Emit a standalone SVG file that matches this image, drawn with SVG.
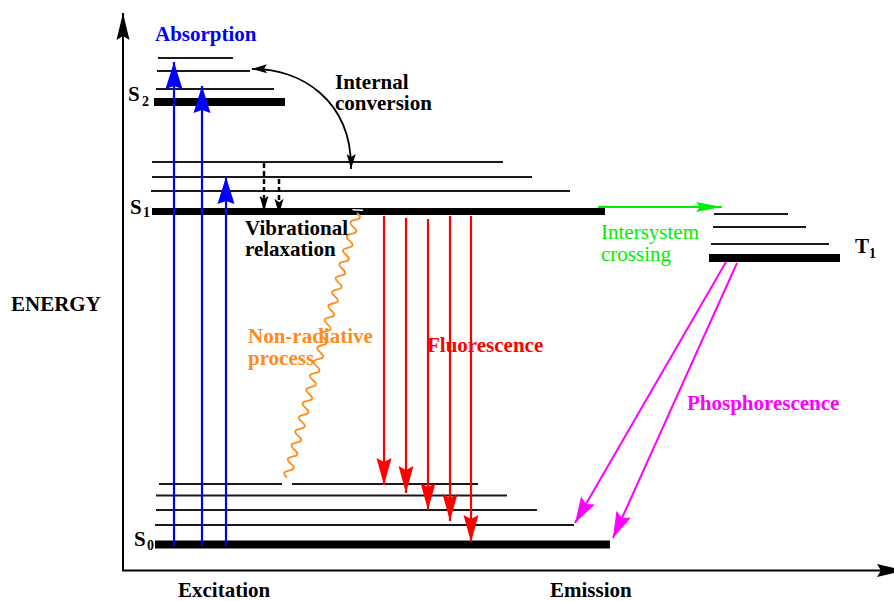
<svg xmlns="http://www.w3.org/2000/svg" width="894" height="601" viewBox="0 0 894 601">
<style>
.lvl{stroke:#1a1a1a;stroke-width:2;fill:none}
.thick{fill:#000}
.t{font-family:"Liberation Serif","Times New Roman",serif;font-weight:bold;font-size:21px}
.sub{font-family:"Liberation Serif","Times New Roman",serif;font-weight:bold;font-size:14px}
.ax{stroke:#000;stroke-width:2;fill:none}
.blue{stroke:#0000ff;stroke-width:2.2;fill:none}
.red{stroke:#ff0000;stroke-width:2.2;fill:none}
.mag{stroke:#ff00ff;stroke-width:2;fill:none}
.grn{stroke:#00ee00;stroke-width:2;fill:none}
.dash{stroke:#000;stroke-width:2.5;stroke-dasharray:5 3;fill:none}
</style>
<defs>
<marker id="hAx" markerUnits="userSpaceOnUse" markerWidth="30" markerHeight="16" viewBox="-28 -8 30 16" refX="0" refY="0" orient="auto"><path d="M0,0 L-27,-6.5 L-23,0 L-27,6.5 Z" fill="#000"/></marker>
<marker id="hB" markerUnits="userSpaceOnUse" markerWidth="30" markerHeight="20" viewBox="-28 -10 30 20" refX="0" refY="0" orient="auto"><path d="M0,0 L-27,-8.5 L-24,0 L-27,8.5 Z" fill="#0000ff"/></marker>
<marker id="hR" markerUnits="userSpaceOnUse" markerWidth="30" markerHeight="20" viewBox="-28 -10 30 20" refX="0" refY="0" orient="auto"><path d="M0,0 L-27,-7.5 L-23,0 L-27,7.5 Z" fill="#ff0000"/></marker>
<marker id="hM" markerUnits="userSpaceOnUse" markerWidth="30" markerHeight="20" viewBox="-28 -10 30 20" refX="0" refY="0" orient="auto"><path d="M0,0 L-26,-8 L-22,0 L-26,8 Z" fill="#ff00ff"/></marker>
<marker id="hG" markerUnits="userSpaceOnUse" markerWidth="30" markerHeight="16" viewBox="-28 -8 30 16" refX="0" refY="0" orient="auto"><path d="M0,0 L-26,-5 L-22,0 L-26,5 Z" fill="#00ee00"/></marker>
<marker id="hK" markerUnits="userSpaceOnUse" markerWidth="18" markerHeight="12" viewBox="-16 -6 18 12" refX="0" refY="0" orient="auto-start-reverse"><path d="M0,0 L-15,-4.5 L-12,0 L-15,4.5 Z" fill="#000"/></marker>
<marker id="hD" markerUnits="userSpaceOnUse" markerWidth="18" markerHeight="12" viewBox="-18 -6 20 12" refX="0" refY="0" orient="auto"><path d="M0,0 L-17,-5 L-13,0 L-17,5 Z" fill="#000"/></marker>
</defs>

<g id="axes">
<line class="ax" x1="123" y1="571" x2="123" y2="13" marker-end="url(#hAx)"/>
<line class="ax" x1="122" y1="570.5" x2="904" y2="570.5" marker-end="url(#hAx)"/>
<text class="t" x="11" y="311">ENERGY</text>
<text class="t" x="178" y="597">Excitation</text>
<text class="t" x="550" y="597">Emission</text>
</g>

<g id="S2">
<line class="lvl" x1="158" y1="58" x2="233" y2="58"/>
<line class="lvl" x1="157" y1="71" x2="250" y2="71"/>
<line class="lvl" x1="156" y1="89" x2="274" y2="89"/>
<rect class="thick" x="154" y="98" width="131" height="8"/>
<text class="t" x="128" y="101">S</text><text class="sub" x="142" y="106">2</text>
</g>

<g id="S1">
<line class="lvl" x1="152" y1="162" x2="503" y2="162"/>
<line class="lvl" x1="152" y1="177" x2="532" y2="177"/>
<line class="lvl" x1="151" y1="191" x2="570" y2="191"/>
<rect class="thick" x="152" y="208" width="453" height="7"/>
<path d="M352,209 L363,209.5 L363,211 L353,210.5 Z" fill="#fff"/>
<text class="t" x="130" y="214">S</text><text class="sub" x="143" y="217">1</text>
</g>

<g id="S0">
<line class="lvl" x1="159" y1="484" x2="282" y2="484"/>
<line class="lvl" x1="292" y1="484" x2="478" y2="484"/>
<line class="lvl" x1="156" y1="495.5" x2="507" y2="495.5"/>
<line class="lvl" x1="156" y1="510" x2="537" y2="510"/>
<line class="lvl" x1="155" y1="525" x2="574" y2="525"/>
<rect class="thick" x="155" y="540.5" width="455" height="8"/>
<text class="t" x="134" y="546">S</text><text class="sub" x="147" y="550">0</text>
</g>

<g id="T1">
<line class="lvl" x1="714" y1="214" x2="788" y2="214"/>
<line class="lvl" x1="713" y1="227" x2="806" y2="227"/>
<line class="lvl" x1="711" y1="244" x2="829" y2="244"/>
<rect class="thick" x="709" y="254" width="131" height="8"/>
<text class="t" x="855" y="253">T</text><text class="sub" x="869" y="258">1</text>
</g>

<g id="connectors">
<line class="blue" x1="174" y1="546" x2="174" y2="62" marker-end="url(#hB)"/>
<line class="blue" x1="202" y1="546" x2="202" y2="86" marker-end="url(#hB)"/>
<line class="blue" x1="226" y1="546" x2="226" y2="177" marker-end="url(#hB)"/>

<path d="M252,69 C300,68 352,100 351,169" stroke="#000" stroke-width="1.8" fill="none" marker-start="url(#hK)" marker-end="url(#hK)"/>

<line class="dash" x1="264" y1="163" x2="264" y2="211" marker-end="url(#hD)"/>
<line class="dash" x1="279" y1="179" x2="279" y2="214" marker-end="url(#hD)"/>

<path transform="translate(357,213) rotate(104.8)" stroke="#ff8c1a" stroke-width="1.8" fill="none" d="M0,0 q3.6,-8 7.2,0 t7.2,0 t7.2,0 t7.2,0 t7.2,0 t7.2,0 t7.2,0 t7.2,0 t7.2,0 t7.2,0 t7.2,0 t7.2,0 t7.2,0 t7.2,0 t7.2,0 t7.2,0 t7.2,0 t7.2,0 t7.2,0 t7.2,0 t7.2,0 t7.2,0 t7.2,0 t7.2,0 t7.2,0 t7.2,0 t7.2,0 t7.2,0 t7.2,0 t7.2,0 t7.2,0 t7.2,0 t7.2,0 t7.2,0 t7.2,0 t7.2,0 t7.2,0 t7.2,0"/>

<line class="red" x1="384" y1="216" x2="384" y2="485" marker-end="url(#hR)"/>
<line class="red" x1="406" y1="218" x2="406" y2="493" marker-end="url(#hR)"/>
<line class="red" x1="428" y1="219" x2="428" y2="510" marker-end="url(#hR)"/>
<line class="red" x1="450" y1="216" x2="450" y2="521" marker-end="url(#hR)"/>
<line class="red" x1="471" y1="216" x2="471" y2="542" marker-end="url(#hR)"/>

<line class="grn" x1="598" y1="207" x2="722" y2="207" marker-end="url(#hG)"/>

<line class="mag" x1="726" y1="262" x2="575" y2="523" marker-end="url(#hM)"/>
<line class="mag" x1="737" y1="263" x2="613" y2="538" marker-end="url(#hM)"/>
</g>

<g id="labels">
<text class="t" x="155" y="41" fill="#0000ff">Absorption</text>
<text class="t" x="335" y="89">Internal</text>
<text class="t" x="335" y="110">conversion</text>
<text class="t" x="245" y="235">Vibrational</text>
<text class="t" x="245" y="256">relaxation</text>
<text class="t" x="248" y="343" fill="#ff8c1a">Non-radiative</text>
<text class="t" x="248" y="365" fill="#ff8c1a">process</text>
<text class="t" x="427" y="352" fill="#ff0000">Fluorescence</text>
<text class="t" x="687" y="410" fill="#ff00ff">Phosphorescence</text>
<text x="601" y="239" fill="#00ee00" font-family="Liberation Serif, Times New Roman, serif" font-size="21">Intersystem</text>
<text x="601" y="261" fill="#00ee00" font-family="Liberation Serif, Times New Roman, serif" font-size="21">crossing</text>
</g>
</svg>
